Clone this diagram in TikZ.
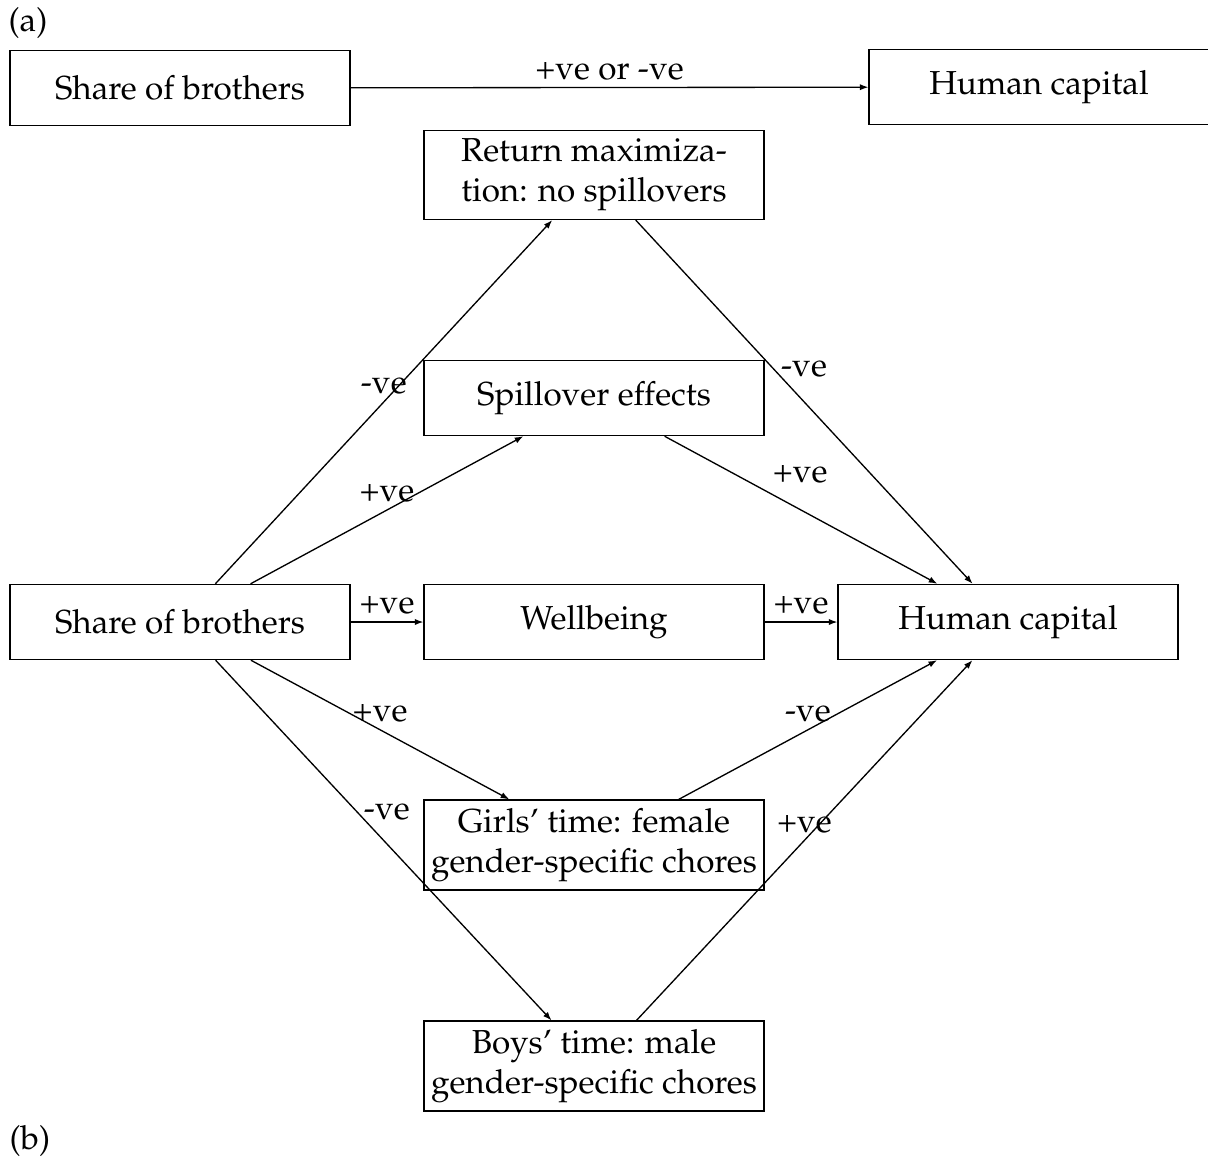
\documentclass[tikz,border=0pt]{standalone}
\usepackage[T1]{fontenc}
\usepackage{mathpazo}
\usepackage{tikz}
\usetikzlibrary{positioning,arrows.meta}

\tikzset{
  box/.style={draw, align=center, minimum width=102.3pt, minimum height=22.6pt, inner xsep=2pt, inner ysep=2.5pt},
  tag/.style={anchor=west, inner sep=0pt},
  lbl/.style={inner sep=2pt},
  >={Latex[length=2.6pt,width=1.9pt]}
}

\begin{document}
\begin{tikzpicture}[x=0.301pt, y=-0.301pt]
\useasboundingbox (0,0) rectangle (1208,1162);

% Panel (a)
\node[tag] (taga) at (8,23) {(a)};
\node[box] (sbA) at (180,88) {Share of brothers};
\node[box] (hcA) at (1039,87) {Human capital};
\draw[->] (sbA) -- node[lbl, above] {+ve or -ve} (hcA);

% Panel (b): boxes
\node[box] (ret) at (594,175) {Return maximiza-\\tion: no spillovers};
\node[box] (spill) at (594,398) {Spillover effects};
\node[box] (sbB) at (180,622) {Share of brothers};
\node[box] (well) at (594,622) {Wellbeing};
\node[box] (hcB) at (1008,622) {Human capital};
\node[box] (girls) at (594,845) {Girls' time: female\\gender-specific chores};
\node[box] (boys) at (594,1066) {Boys' time: male\\gender-specific chores};
\node[tag] (tagb) at (9,1141) {(b)};

% Panel (b): channels
\draw[->] (sbB) -- node[lbl, midway, above] {-ve} (ret);
\draw[->] (sbB) -- node[lbl, midway, above] {+ve} (spill);
\draw[->] (sbB) -- node[lbl, above] {+ve} (well);
\draw[->] (sbB) -- node[lbl, midway, above] {+ve} (girls);
\draw[->] (sbB) -- node[lbl, pos=0.42, right] {-ve} (boys);
\draw[->] (ret) -- node[lbl, pos=0.41, right] {-ve} (hcB);
\draw[->] (spill) -- node[lbl, pos=0.37, above right] {+ve} (hcB);
\draw[->] (well) -- node[lbl, above] {+ve} (hcB);
\draw[->] (girls) -- node[lbl, midway, above] {-ve} (hcB);
\draw[->] (boys) -- node[lbl, midway, above] {+ve} (hcB);

\end{tikzpicture}
\end{document}
